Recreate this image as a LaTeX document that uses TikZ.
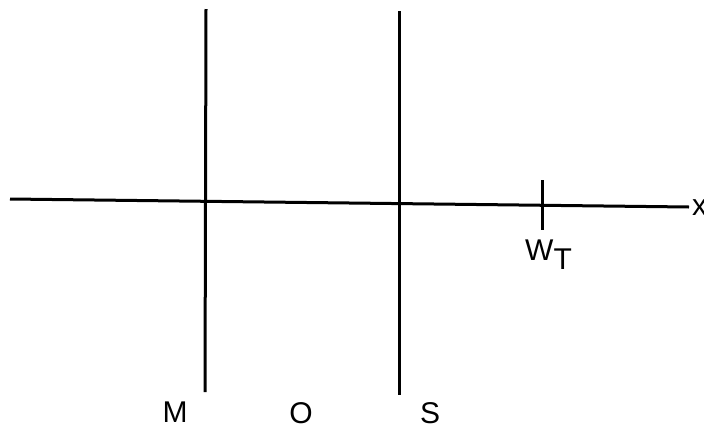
\documentclass[tikz,border=0pt]{standalone}
\usepackage{fontspec}
\setmainfont{Liberation Sans}
\usetikzlibrary{positioning}
\begin{document}
\begin{tikzpicture}[
    x=1pt, y=-1pt,
    font=\fontsize{30}{36}\selectfont,
    line/.style={line width=3pt},
    label/.style={inner sep=0pt, anchor=base}
]
\useasboundingbox (0,0) rectangle (704,437);
% axis
\coordinate (axl) at (10,199);
\coordinate (axr) at (689,207);
\draw[line] (axl) -- (axr);
\node[label, anchor=base west] (xlab) at (692,215) {x};
% mirror and screen
\coordinate (mtop) at (206,9);
\coordinate (mbot) at (205,392);
\coordinate (stop) at (399,11);
\coordinate (sbot) at (399,395);
\draw[line] (mtop) -- (mbot);
\draw[line] (stop) -- (sbot);
% tick
\coordinate (wtop) at (542,180);
\coordinate (wbot) at (542,230);
\draw[line] (wtop) -- (wbot);
\node[label, anchor=base west] (wt) at (525,260) {W\raisebox{-9pt}{T}};
% labels
\node[label] (m) at (175,422) {M};
\node[label] (o) at (301,423) {O};
\node[label] (s) at (430,423) {S};
\end{tikzpicture}
\end{document}
